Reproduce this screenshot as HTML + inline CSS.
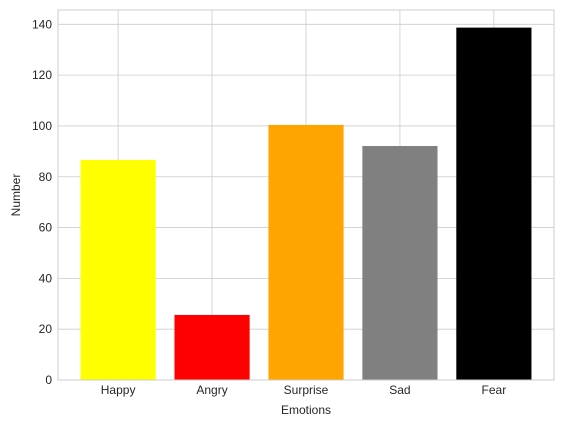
<!DOCTYPE html>
<html><head><meta charset="utf-8"><style>
body{margin:0;background:#fff;}
svg text{font-family:"Liberation Sans","DejaVu Sans",sans-serif;fill:#262626;}
</style></head><body>
<svg id="chart" width="563" height="428" xmlns="http://www.w3.org/2000/svg"></svg>
<script>
const categories=["Happy","Angry","Surprise","Sad","Fear"];
const values=[86.6,25.6,100.4,92.1,138.7];
const colors=["yellow","red","orange","gray","black"];
const yTicks=[0,20,40,60,80,100,120,140];
const NS="http://www.w3.org/2000/svg";
const svg=document.getElementById('chart');
const L=58,R=554,T=10,B=380;
const ymax=Math.max(...values)*1.05;
const xmin=-0.64,xmax=categories.length-1+0.64;
const xs=v=>L+(v-xmin)/(xmax-xmin)*(R-L);
const ys=v=>B-v/ymax*(B-T);
function mk(tag,attrs,parent){const e=document.createElementNS(NS,tag);for(const k in attrs)e.setAttribute(k,attrs[k]);(parent||svg).appendChild(e);return e;}
const grid=mk('g',{});


yTicks.forEach(t=>{const y=ys(t);
 mk('line',{x1:L,x2:R,y1:y,y2:y,stroke:'#cccccc','stroke-width':0.8},grid);
 const tx=mk('text',{x:L-6,y:y+4,'text-anchor':'end','font-size':12});
 tx.textContent=t;
 
 
});
categories.forEach((c,i)=>{const x=xs(i);
 mk('line',{x1:x,x2:x,y1:T,y2:B,stroke:'#cccccc','stroke-width':0.8},grid);
});
categories.forEach((c,i)=>{
 const w=0.8/(xmax-xmin)*(R-L);
 const r=mk('rect',{x:xs(i)-w/2,y:ys(values[i]),width:w,height:B-ys(values[i]),fill:colors[i]});
 
 
 const tx=mk('text',{x:xs(i),y:B+14,'text-anchor':'middle','font-size':12});
 tx.textContent=c;
 
 
});
const frame=mk('rect',{x:L,y:T,width:R-L,height:B-T,fill:'none',stroke:'#cccccc','stroke-width':1});


const xt=mk('text',{x:(L+R)/2,y:414,'text-anchor':'middle','font-size':12});
xt.textContent='Emotions';


const yt=mk('text',{x:0,y:0,'text-anchor':'middle','font-size':12,transform:`translate(20,${(T+B)/2}) rotate(-90)`});
yt.textContent='Number';


</script>
</body></html>
